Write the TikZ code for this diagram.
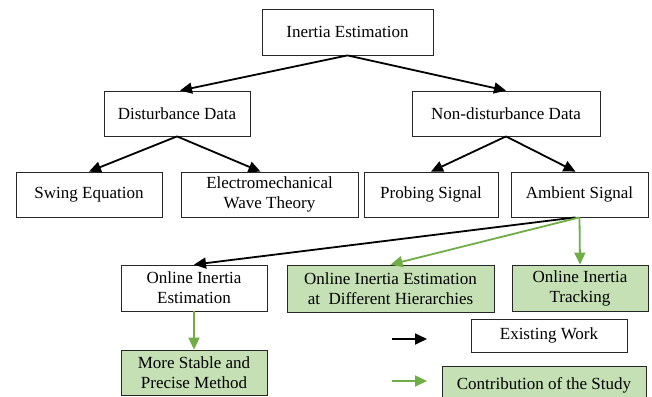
\documentclass[tikz,border=0pt]{standalone}
\usepackage{fontspec}
\setmainfont{Liberation Serif}
\usetikzlibrary{arrows.meta}
\definecolor{boxgreen}{HTML}{C5E0B4}
\definecolor{arrgreen}{HTML}{70AD47}
\begin{document}
\begin{tikzpicture}[x=1pt,y=-1pt,
  box/.style={draw=black!85, line width=0.8pt, inner sep=0pt, align=center,
    font=\fontsize{17}{20}\selectfont},
  gbox/.style={box, fill=boxgreen},
  arr/.style={line width=1.8pt, -{Triangle[length=12pt,width=11pt]}},
  garr/.style={arr, draw=arrgreen, fill=arrgreen}]
\useasboundingbox (0,0) rectangle (652,396);
\node[box, minimum width=171pt, minimum height=46pt] (ie) at (347.5,32) {Inertia Estimation};
\node[box, minimum width=146pt, minimum height=45pt] (dd) at (177,113.5) {Disturbance Data};
\node[box, minimum width=188pt, minimum height=45pt] (nd) at (506,113.5) {Non-disturbance Data};
\node[box, minimum width=146pt, minimum height=45pt] (se) at (89,194.5) {Swing Equation};
\node[box, minimum width=177pt, minimum height=45pt] (ewt) at (269.5,194.5) {Electromechanical\\Wave Theory};
\node[box, minimum width=134pt, minimum height=45pt] (ps) at (431,194.5) {Probing Signal};
\node[box, minimum width=137pt, minimum height=45pt] (as) at (579.5,194.5) {Ambient Signal};
\node[box, minimum width=146pt, minimum height=46pt] (oie) at (194,288) {Online Inertia\\Estimation};
\node[gbox, minimum width=207pt, minimum height=47pt] (oih) at (390.5,288.5) {Online Inertia Estimation\\at\ \ Different Hierarchies};
\node[gbox, minimum width=136pt, minimum height=46pt] (oit) at (580,288) {Online Inertia\\Tracking};
\node[gbox, minimum width=146pt, minimum height=45pt] (msp) at (194,372.5) {More Stable and\\Precise Method};
\node[box, minimum width=156pt, minimum height=33pt] (ew) at (549,335.5) {Existing Work};
\node[gbox, minimum width=204pt, minimum height=38pt] (cs) at (544,385) {Contribution of the Study};
\coordinate (lb1) at (392,339);
\coordinate (lb2) at (427,339);
\coordinate (lg1) at (392,381);
\coordinate (lg2) at (427,381);
\draw[arr] (ie.south) -- ([xshift=3pt]dd.north);
\draw[arr] (ie.south) -- (nd.north);
\draw[arr] (dd.south) -- (se.north);
\draw[arr] (dd.south) -- ([xshift=-9pt]ewt.north);
\draw[arr] (nd.south) -- (ps.north);
\draw[arr] (nd.south) -- ([xshift=-4pt]as.north);
\draw[arr] ([xshift=-4pt]as.south) -- (oie.north);
\draw[garr] (as.south) -- (oih.north);
\draw[garr] (as.south) -- (oit.north);
\draw[garr] (oie.south) -- (msp.north);
\draw[arr] (lb1) -- (lb2);
\draw[garr] (lg1) -- (lg2);
\end{tikzpicture}
\end{document}
